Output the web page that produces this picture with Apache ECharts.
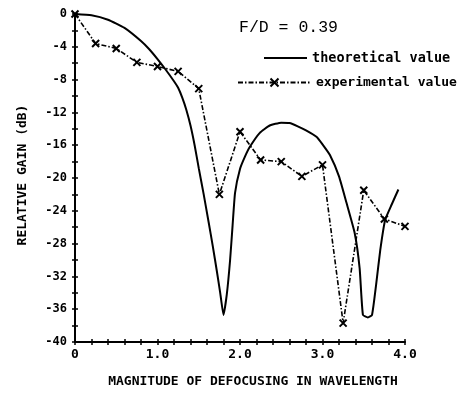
<!DOCTYPE html>
<html><head><meta charset="utf-8">
<script src="https://cdn.jsdelivr.net/npm/echarts@6/dist/echarts.min.js"></script>
<style>html,body{margin:0;padding:0;background:#fff}#c{width:462px;height:393px}</style>
</head><body><div id="c"></div>
<script>
const theoX = [0,0.2,0.4,0.6,0.8,0.9,1.0,1.1,1.2,1.25,1.3,1.35,1.4,1.45,1.5,1.56,1.62,1.67,1.72,1.76,1.80,1.84,1.88,1.91,1.94,2.0,2.06,2.12,2.24,2.36,2.5,2.6,2.7,2.8,2.93,3.0,3.09,3.2,3.29,3.39,3.45,3.49,3.55,3.60,3.65,3.70,3.76,3.84,3.92];
const theoY = [0,-0.15,-0.7,-1.7,-3.3,-4.3,-5.5,-6.8,-8.2,-9.0,-10.2,-11.7,-13.6,-16.0,-18.8,-22.0,-25.4,-28.3,-31.4,-34.0,-36.7,-34.2,-30,-25.8,-21.8,-18.9,-17.4,-16.2,-14.5,-13.6,-13.25,-13.3,-13.7,-14.2,-15.0,-15.9,-17.2,-19.8,-23.0,-26.7,-31.0,-36.7,-37.0,-36.7,-33.0,-28.8,-25.1,-23.2,-21.4];
const expX = [0,0.25,0.5,0.75,1.0,1.25,1.5,1.75,2.0,2.25,2.5,2.75,3.0,3.25,3.5,3.75,4.0];
const expY = [0,-3.6,-4.2,-5.9,-6.4,-7.0,-9.1,-22.0,-14.35,-17.8,-18.0,-19.8,-18.4,-37.7,-21.5,-25.0,-25.9];
const xLabels = ['0','1.0','2.0','3.0','4.0'];
const yLabelValues = [0,-4,-8,-12,-16,-20,-24,-28,-32,-36,-40];

const zip = (a,b) => a.map((v,i)=>[v,b[i]]);
const mono = '"DejaVu Sans Mono", monospace';
const chart = echarts.init(document.getElementById('c'), null, {renderer:'canvas'});
const tickStyle = {lineStyle:{color:'#000', width:1.5}, length:3};
const xFmt = v => { const r = Math.round(v); return Math.abs(v-r)<1e-6 ? xLabels[r] : ''; };
const yFmt = v => yLabelValues.some(t=>Math.abs(t-v)<1e-6) ? String(Math.round(v)) : '';
chart.setOption({
  animation:false,
  backgroundColor:'#fff',
  grid:{left:75,right:57,top:14,bottom:51,containLabel:false},
  xAxis:[
    {type:'value',min:0,max:4,interval:0.2,position:'bottom',
     axisLine:{show:true,onZero:false,lineStyle:{color:'#000',width:2}},
     axisTick:Object.assign({show:true,inside:false},tickStyle),
     axisLabel:{formatter:xFmt,color:'#000',fontFamily:mono,fontWeight:'bold',fontSize:13,margin:6,showMinLabel:true,showMaxLabel:true},
     splitLine:{show:false}},
    {type:'value',min:0,max:4,interval:0.2,position:'bottom',
     axisLine:{show:false,onZero:false},
     axisTick:Object.assign({show:true,inside:true},tickStyle),
     axisLabel:{show:false},splitLine:{show:false}}
  ],
  yAxis:[
    {type:'value',min:-40,max:0,interval:2,position:'left',
     axisLine:{show:true,onZero:false,lineStyle:{color:'#000',width:2}},
     axisTick:Object.assign({show:true,inside:false},tickStyle),
     axisLabel:{formatter:yFmt,color:'#000',fontFamily:mono,fontWeight:'bold',fontSize:12,margin:8},
     splitLine:{show:false}},
    {type:'value',min:-40,max:0,interval:2,position:'left',
     axisLine:{show:false,onZero:false},
     axisTick:Object.assign({show:true,inside:true},tickStyle),
     axisLabel:{show:false},splitLine:{show:false}}
  ],
  legend:[
    {data:['theoretical value'],left:263,top:51,itemWidth:43,itemHeight:10,itemGap:0,
     itemStyle:{opacity:0},
     textStyle:{fontFamily:mono,fontWeight:'bold',fontSize:13.5,color:'#000'},padding:0},
    {data:['experimental value'],left:237,top:76,itemWidth:73,itemHeight:10,itemGap:0,
     textStyle:{fontFamily:mono,fontWeight:'bold',fontSize:13,color:'#000'},padding:0}
  ],
  graphic:[
    {type:'text',left:239,top:19,style:{text:'F/D = 0.39',font:'16.5px "Liberation Mono", monospace',fill:'#000'}},
    {type:'text',x:253,y:382,style:{text:'MAGNITUDE OF DEFOCUSING IN WAVELENGTH',font:'bold 13px "DejaVu Sans Mono", monospace',fill:'#000',align:'center',verticalAlign:'middle'}},
    {type:'text',x:23,y:175,rotation:Math.PI/2,style:{text:'RELATIVE GAIN (dB)',font:'bold 13px "DejaVu Sans Mono", monospace',fill:'#000',align:'center',verticalAlign:'middle'}}
  ],
  series:[
    {name:'theoretical value',type:'line',xAxisIndex:0,yAxisIndex:0,data:zip(theoX,theoY),
     showSymbol:false,symbol:'none',smooth:0.15,lineStyle:{color:'#000',width:2},itemStyle:{color:'#000'}},
    {name:'experimental value',type:'line',xAxisIndex:0,yAxisIndex:0,data:zip(expX,expY),
     symbol:'path://M0,0L10,10M0,10L10,0',symbolSize:7,
     lineStyle:{color:'#000',width:1.6,type:[5,2,1.5,2]},
     itemStyle:{color:'#000',borderColor:'#000',borderWidth:2}}
  ]
});
</script></body></html>
